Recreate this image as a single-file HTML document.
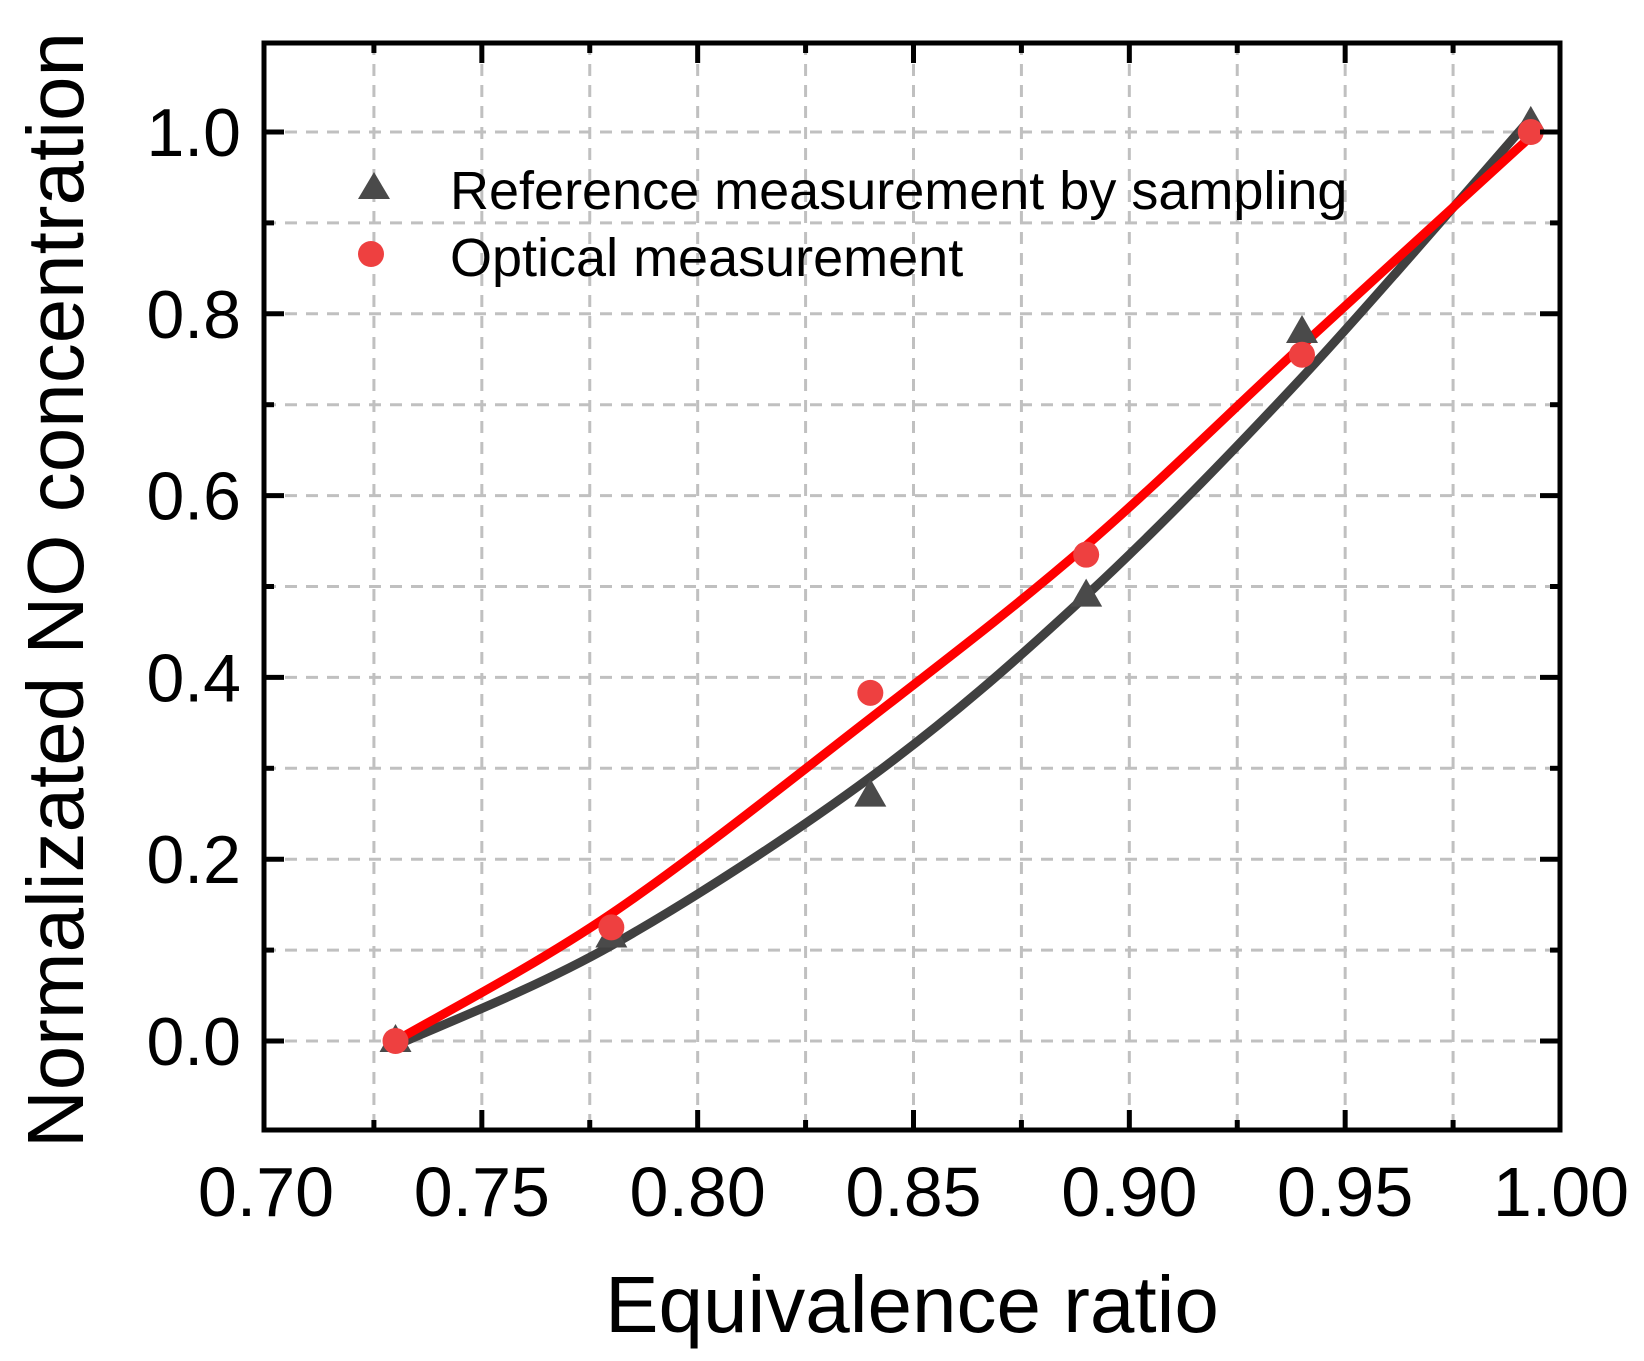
<!DOCTYPE html>
<html><head><meta charset="utf-8"><style>
html,body{margin:0;padding:0;background:#fff;}
svg{display:block;font-family:"Liberation Sans",Arial,sans-serif;}
</style></head><body>
<svg id="chart" width="1644" height="1361" viewBox="0 0 1644 1361">
<g id="grid"></g>
<g id="curves"></g>
<g id="points"></g>
<rect x="264" y="43" width="1296" height="1087" fill="none" stroke="#000" stroke-width="5"/>
<g id="ticks"></g>
<g id="xlabels" font-size="70" text-anchor="middle"></g>
<g id="ylabels" font-size="68" text-anchor="end"></g>
<text x="912" y="1332" font-size="80" text-anchor="middle">Equivalence ratio</text>
<text transform="translate(83,590) rotate(-90)" font-size="80" text-anchor="middle">Normalizated NO concentration</text>
<g>
<polygon points="374,172 390,199 358,199" fill="#4a4a4a"/>
<text x="450" y="209" font-size="54">Reference measurement by sampling</text>
<circle cx="371" cy="254" r="13" fill="#ee4040"/>
<text x="450" y="276" font-size="54">Optical measurement</text>
</g>
</svg>
<script>
const refX = [0.73, 0.78, 0.84, 0.89, 0.94, 0.993];
const refY = [0.0, 0.115, 0.27, 0.49, 0.78, 1.01];
const optX = [0.73, 0.78, 0.84, 0.89, 0.94, 0.993];
const optY = [0.0, 0.125, 0.383, 0.535, 0.755, 1.0];
const refFitX = [0.73, 0.78, 0.84, 0.89, 0.94, 0.993];
const refFitY = [-0.005, 0.105, 0.29, 0.49, 0.73, 1.015];
const optFitX = [0.73, 0.78, 0.84, 0.89, 0.94, 0.993];
const optFitY = [0.0, 0.14, 0.355, 0.545, 0.765, 0.995];
const xTicks = ["0.70","0.75","0.80","0.85","0.90","0.95","1.00"];
const yTicks = ["0.0","0.2","0.4","0.6","0.8","1.0"];

const NS = "http://www.w3.org/2000/svg";
function sx(v){ return 266 + (v - 0.70) / 0.30 * 1295; }
function sy(v){ return 1041 - v * 909; }
function mk(tag, attrs, parent){
  const e = document.createElementNS(NS, tag);
  for (const k in attrs) e.setAttribute(k, attrs[k]);
  parent.appendChild(e);
  return e;
}
const grid = document.getElementById('grid');
const ticks = document.getElementById('ticks');
for (let i = 1; i < 12; i++) {
  const v = 0.70 + i * 0.025, x = sx(v);
  const l = mk('line', {x1:x, y1:43, x2:x, y2:1130, stroke:'#c0c0c0', 'stroke-width':3, 'stroke-dasharray':'12 9'}, grid);
  
  
  const len = (i % 2 === 0) ? 20 : 10;
  const t1 = mk('line', {x1:x, y1:1130, x2:x, y2:1130-len, stroke:'#000', 'stroke-width':5}, ticks);
  
  
  const t2 = mk('line', {x1:x, y1:43, x2:x, y2:43+len, stroke:'#000', 'stroke-width':5}, ticks);
  
  
}
for (let i = 0; i <= 10; i++) {
  const v = i * 0.1, y = sy(v);
  const l = mk('line', {x1:264, y1:y, x2:1560, y2:y, stroke:'#c0c0c0', 'stroke-width':3, 'stroke-dasharray':'12 9'}, grid);
  
  
  const len = (i % 2 === 0) ? 20 : 10;
  const t1 = mk('line', {x1:264, y1:y, x2:264+len, y2:y, stroke:'#000', 'stroke-width':5}, ticks);
  
  
  const t2 = mk('line', {x1:1560, y1:y, x2:1560-len, y2:y, stroke:'#000', 'stroke-width':5}, ticks);
  
  
}
const xl = document.getElementById('xlabels');
xTicks.forEach(s => {
  const t = mk('text', {x: sx(parseFloat(s)), y: 1216}, xl);
  t.textContent = s;
  
  
});
const yl = document.getElementById('ylabels');
yTicks.forEach(s => {
  const t = mk('text', {x: 241, y: sy(parseFloat(s)) + 24}, yl);
  t.textContent = s;
  
  
});
function smoothPath(xs, ys){
  const p = xs.map((x, i) => [sx(x), sy(ys[i])]);
  let d = 'M' + p[0][0] + ',' + p[0][1];
  for (let i = 0; i < p.length - 1; i++) {
    const p0 = p[Math.max(i-1,0)], p1 = p[i], p2 = p[i+1], p3 = p[Math.min(i+2,p.length-1)];
    const c1 = [p1[0] + (p2[0]-p0[0])/6, p1[1] + (p2[1]-p0[1])/6];
    const c2 = [p2[0] - (p3[0]-p1[0])/6, p2[1] - (p3[1]-p1[1])/6];
    d += ' C' + c1 + ' ' + c2 + ' ' + p2;
  }
  return d;
}
const curves = document.getElementById('curves');
const pts = document.getElementById('points');
refX.forEach((x, i) => {
  const cx = sx(x), cy = sy(refY[i]);
  const tr = mk('polygon', {points: `${cx},${cy-17} ${cx+16},${cy+11} ${cx-16},${cy+11}`, fill:'#4a4a4a'}, pts);
  
  
});
optX.forEach((x, i) => {
  const c = mk('circle', {cx: sx(x), cy: sy(optY[i]), r: 13, fill:'#ee4040'}, pts);
  
  
});
const g1 = mk('path', {d: smoothPath(refFitX, refFitY), fill:'none', stroke:'#404040', 'stroke-width':9, 'stroke-linecap':'round'}, curves);


const g2 = mk('path', {d: smoothPath(optFitX, optFitY), fill:'none', stroke:'#ff0000', 'stroke-width':9, 'stroke-linecap':'round'}, curves);


</script>
</body></html>
